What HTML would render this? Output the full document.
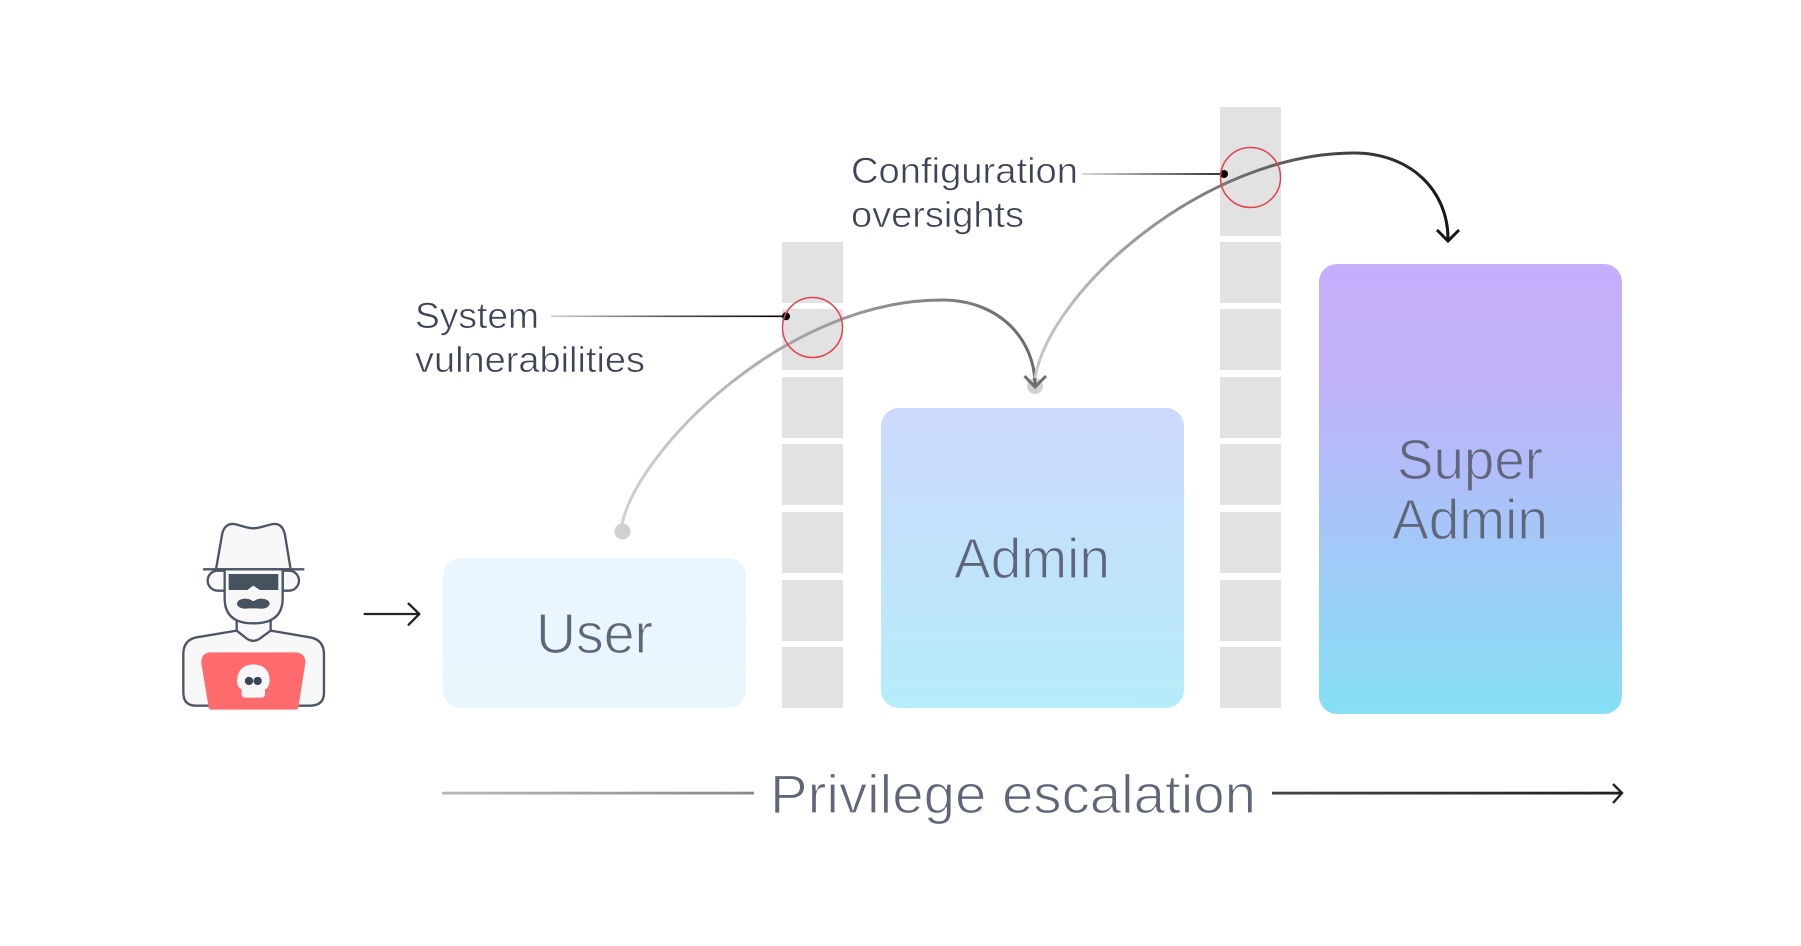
<!DOCTYPE html>
<html><head><meta charset="utf-8"><style>html,body{margin:0;padding:0;background:#fff}svg{display:block}
text{font-family:"Liberation Sans",sans-serif}
</style></head><body>
<svg width="1801" height="946" viewBox="0 0 1801 946" xmlns="http://www.w3.org/2000/svg">
<defs>
<linearGradient id="gu" x1="0" y1="0" x2="0" y2="1"><stop offset="0" stop-color="#ebf5fe"/><stop offset="1" stop-color="#e8f6fc"/></linearGradient>
<linearGradient id="ga" x1="0" y1="0" x2="0" y2="1"><stop offset="0" stop-color="#cdd9fb"/><stop offset="1" stop-color="#b5edf9"/></linearGradient>
<linearGradient id="gs" x1="0" y1="0" x2="0" y2="1"><stop offset="0" stop-color="#c5aefb"/><stop offset=".25" stop-color="#c1b1fa"/><stop offset="1" stop-color="#85dff5"/></linearGradient>
<linearGradient id="c1" gradientUnits="userSpaceOnUse" x1="622" y1="0" x2="1035" y2="0"><stop offset="0" stop-color="#d0d0d0"/><stop offset="1" stop-color="#6a6a6a"/></linearGradient>
<linearGradient id="c2" gradientUnits="userSpaceOnUse" x1="1035" y1="0" x2="1448" y2="0"><stop offset="0" stop-color="#c8c8c8"/><stop offset="1" stop-color="#161616"/></linearGradient>
<linearGradient id="l1" gradientUnits="userSpaceOnUse" x1="551" y1="0" x2="786" y2="0"><stop offset="0" stop-color="#cfcfcf"/><stop offset=".5" stop-color="#555"/><stop offset="1" stop-color="#000"/></linearGradient>
<linearGradient id="l2" gradientUnits="userSpaceOnUse" x1="1082" y1="0" x2="1224" y2="0"><stop offset="0" stop-color="#cfcfcf"/><stop offset="1" stop-color="#000"/></linearGradient>
<linearGradient id="bl" gradientUnits="userSpaceOnUse" x1="442" y1="0" x2="754" y2="0"><stop offset="0" stop-color="#b8b8b8"/><stop offset="1" stop-color="#8a8a8a"/></linearGradient>
<linearGradient id="br" gradientUnits="userSpaceOnUse" x1="1272" y1="0" x2="1622" y2="0"><stop offset="0" stop-color="#444"/><stop offset="1" stop-color="#202020"/></linearGradient>
</defs>

<!-- brick columns -->
<g fill="#e2e2e2">
<rect x="782" y="242" width="61" height="61"/>
<rect x="782" y="309" width="61" height="61"/>
<rect x="782" y="377" width="61" height="61"/>
<rect x="782" y="444" width="61" height="61"/>
<rect x="782" y="512" width="61" height="61"/>
<rect x="782" y="580" width="61" height="61"/>
<rect x="782" y="647" width="61" height="61"/>
<rect x="1220" y="107" width="61" height="129"/>
<rect x="1220" y="242" width="61" height="61"/>
<rect x="1220" y="309" width="61" height="61"/>
<rect x="1220" y="377" width="61" height="61"/>
<rect x="1220" y="444" width="61" height="61"/>
<rect x="1220" y="512" width="61" height="61"/>
<rect x="1220" y="580" width="61" height="61"/>
<rect x="1220" y="647" width="61" height="61"/>
</g>

<!-- boxes -->
<rect x="443" y="558" width="303" height="150" rx="18" fill="url(#gu)"/>
<rect x="881" y="408" width="303" height="300" rx="18" fill="url(#ga)"/>
<rect x="1319" y="264" width="303" height="450" rx="18" fill="url(#gs)"/>

<g fill="#5f6679" stroke-width="1.200">
<text x="536" y="653" font-size="57" textLength="117" lengthAdjust="spacingAndGlyphs" stroke="#e9f5fd">User</text>
<text x="954" y="578" font-size="57" textLength="156" lengthAdjust="spacingAndGlyphs" stroke="#c2e2fa">Admin</text>
<text x="1397" y="479" font-size="57" textLength="146" lengthAdjust="spacingAndGlyphs" stroke="#b4bbf9">Super</text>
<text x="1392" y="539" font-size="57" textLength="156" lengthAdjust="spacingAndGlyphs" stroke="#a8c5f8">Admin</text>
<text x="770" y="813" font-size="55" textLength="486" lengthAdjust="spacingAndGlyphs" stroke="#fff">Privilege escalation</text>
</g>
<g fill="#3d4456" stroke-width=".6" stroke="#fff">
<text x="415" y="328" font-size="36" textLength="124" lengthAdjust="spacingAndGlyphs">System</text>
<text x="415" y="372" font-size="36" textLength="230" lengthAdjust="spacingAndGlyphs">vulnerabilities</text>
<text x="851" y="183" font-size="36" textLength="227" lengthAdjust="spacingAndGlyphs">Configuration</text>
<text x="851" y="227" font-size="36" textLength="173" lengthAdjust="spacingAndGlyphs">oversights</text>
</g>

<!-- leaders -->
<rect x="551" y="315.500" width="235" height="1.600" fill="url(#l1)"/>
<rect x="1082" y="173.200" width="142" height="1.600" fill="url(#l2)"/>
<circle cx="786" cy="316.300" r="4" fill="#000"/>
<circle cx="1224" cy="174" r="4" fill="#000"/>

<!-- dots -->
<circle cx="622.500" cy="531.500" r="8" fill="#d0d0d0"/>
<circle cx="1035" cy="386" r="8" fill="#d0d0d0"/>

<!-- curves -->
<g fill="none" stroke-width="3">
<path d="M622 524C638 450 785 300 942 300C1000 300 1035 340 1035 385" stroke="url(#c1)"/>
<path d="M1024.500 376L1035 387L1046 376" stroke="#707070"/>
<path d="M1035 378C1050 290 1205 153 1354 153C1410 153 1448 190 1448 239" stroke="url(#c2)"/>
<path d="M1437 230L1448 241L1459 230" stroke="#161616"/>
</g>

<!-- red circles -->
<circle cx="812.500" cy="327.500" r="30" fill="none" stroke="#e2414f" stroke-width="1.500"/>
<circle cx="1250.500" cy="177.500" r="30" fill="none" stroke="#e2414f" stroke-width="1.500"/>

<!-- bottom axis -->
<rect x="442" y="791.700" width="312" height="2.800" fill="url(#bl)"/>
<rect x="1272" y="791.700" width="350" height="2.800" fill="url(#br)"/>
<path d="M1613 784L1622 793L1613 803" fill="none" stroke="#222" stroke-width="2.400"/>

<!-- person -->
<g transform="translate(160 500) scale(.3333)" stroke-linejoin="round" stroke-linecap="round">
<g fill="#f8f8f9" stroke="#4d5666" stroke-width="7">
<path d="M230 392L110 412Q70 420 70 462V578Q70 617 108 617H450Q492 617 492 578V462Q492 420 450 412L332 392Z"/>
<path d="M230 350V392L262 417Q280 428 298 417L332 392V350Z"/>
<path d="M194 212H173A30 30 0 0 0 173 272H194Z"/>
<path d="M368 212H387A30 30 0 0 1 387 272H368Z"/>
<path d="M194 208V295Q194 370 280 370Q368 370 368 295V208Z"/>
<path d="M168 208L186 105C190 80 205 70 222 72C240 75 260 85 280 85C300 85 320 75 340 72C358 70 370 80 375 105L392 208Z"/>
<path d="M132 208H430" fill="none"/>
</g>
<path d="M206 222H355V270H300L280 257L262 270H206Z" fill="#47525f"/>
<g fill="#47525f">
<ellipse cx="256" cy="311" rx="25" ry="15"/><ellipse cx="304" cy="311" rx="25" ry="15"/><rect x="262" y="303" width="36" height="22" rx="4"/>
</g>
<path d="M150 457H408Q438 460 436 490L415 622Q414 629 407 629H154Q147 629 146 622L124 490Q122 460 150 457Z" fill="#fd6b6d"/>
<path d="M280 493Q330 495 329 545Q326 565 315 568V584Q314 593 304 593H256Q246 593 245 584V568Q232 563 231 545Q232 495 280 493Z" fill="#f8f8f9"/>
<circle cx="267" cy="543" r="12.500" fill="#3b4658"/><circle cx="293" cy="543" r="12.500" fill="#3b4658"/>
<path d="M614 342H776M746 311L778 342L746 374" fill="none" stroke="#222" stroke-width="7"/>
</g>
</svg>
</body></html>
